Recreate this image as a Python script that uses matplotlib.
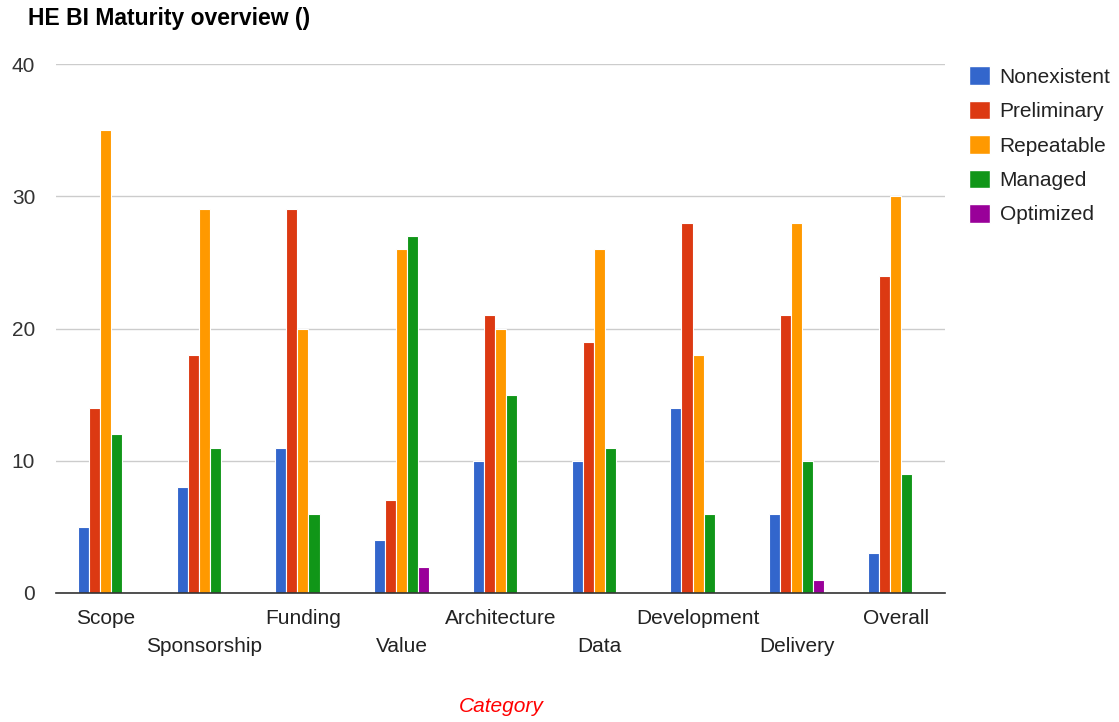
import numpy as np
import matplotlib.pyplot as plt
from matplotlib.patches import Patch

plt.rcParams['font.family'] = ['Liberation Sans', 'DejaVu Sans']

categories = ["Scope", "Sponsorship", "Funding", "Value", "Architecture",
              "Data", "Development", "Delivery", "Overall"]
levels = ["Nonexistent", "Preliminary", "Repeatable", "Managed", "Optimized"]
nonexistent = [5, 8, 11, 4, 10, 10, 14, 6, 3]
preliminary = [14, 18, 29, 7, 21, 19, 28, 21, 24]
repeatable = [35, 29, 20, 26, 20, 26, 18, 28, 30]
managed = [12, 11, 6, 27, 15, 11, 6, 10, 9]
optimized = [0, 0, 0, 2, 0, 0, 0, 1, 0]
series = [nonexistent, preliminary, repeatable, managed, optimized]
colors = ["#3366cc", "#dc3912", "#ff9900", "#109618", "#990099"]

fig = plt.figure(figsize=(11.19, 7.22), dpi=100)
ax = fig.add_axes([56 / 1119, 1 - 593 / 722, (945 - 56) / 1119, (593 - 64) / 722])

x = np.arange(len(categories))
w = 0.112
for i, (vals, c) in enumerate(zip(series, colors)):
    vals = np.array(vals, dtype=float)
    mask = vals > 0
    ax.bar(x[mask] + (i - 2) * w, vals[mask], width=w, color=c,
           edgecolor="white", linewidth=0.8, zorder=3)

ax.set_xlim(-0.5, len(categories) - 0.5)
ax.set_ylim(0, 40)
ax.set_yticks([0, 10, 20, 30, 40])
ax.tick_params(axis="y", length=0, pad=15, labelsize=15, labelcolor="#333333")
ax.yaxis.grid(True, color="#cccccc", linewidth=1, zorder=0)
for s in ["top", "right", "left"]:
    ax.spines[s].set_visible(False)
ax.spines["bottom"].set_color("#333333")
ax.spines["bottom"].set_linewidth(1.2)
ax.spines["bottom"].set_zorder(4)

ax.set_xticks(x)
ax.set_xticklabels([])
ax.tick_params(axis="x", length=0)
for i, name in enumerate(categories):
    off = 26 if i % 2 == 0 else 54
    ax.annotate(name, xy=(i, 0), xytext=(0, -off), textcoords="offset pixels",
                ha="center", va="center", fontsize=15, color="#222222",
                annotation_clip=False)

fig.text(28 / 1119, 1 - 19 / 722, "HE BI Maturity overview ()", fontsize=16.5,
         fontweight="bold", ha="left", va="center", color="#000000")
fig.text(501 / 1119, 1 - 707 / 722, "Category", fontsize=15, style="italic",
         color="#ff0000", ha="center", va="center")

handles = [Patch(facecolor=c, edgecolor="white") for c in colors]
fig.legend(handles, levels, loc="upper left",
           bbox_to_anchor=(961 / 1119, 1 - 58 / 722), frameon=False,
           fontsize=15, handlelength=1.0, handleheight=1.0,
           handletextpad=0.45, labelspacing=0.67, borderaxespad=0,
           labelcolor="#222222")

fig.savefig("out.png", dpi=100)
